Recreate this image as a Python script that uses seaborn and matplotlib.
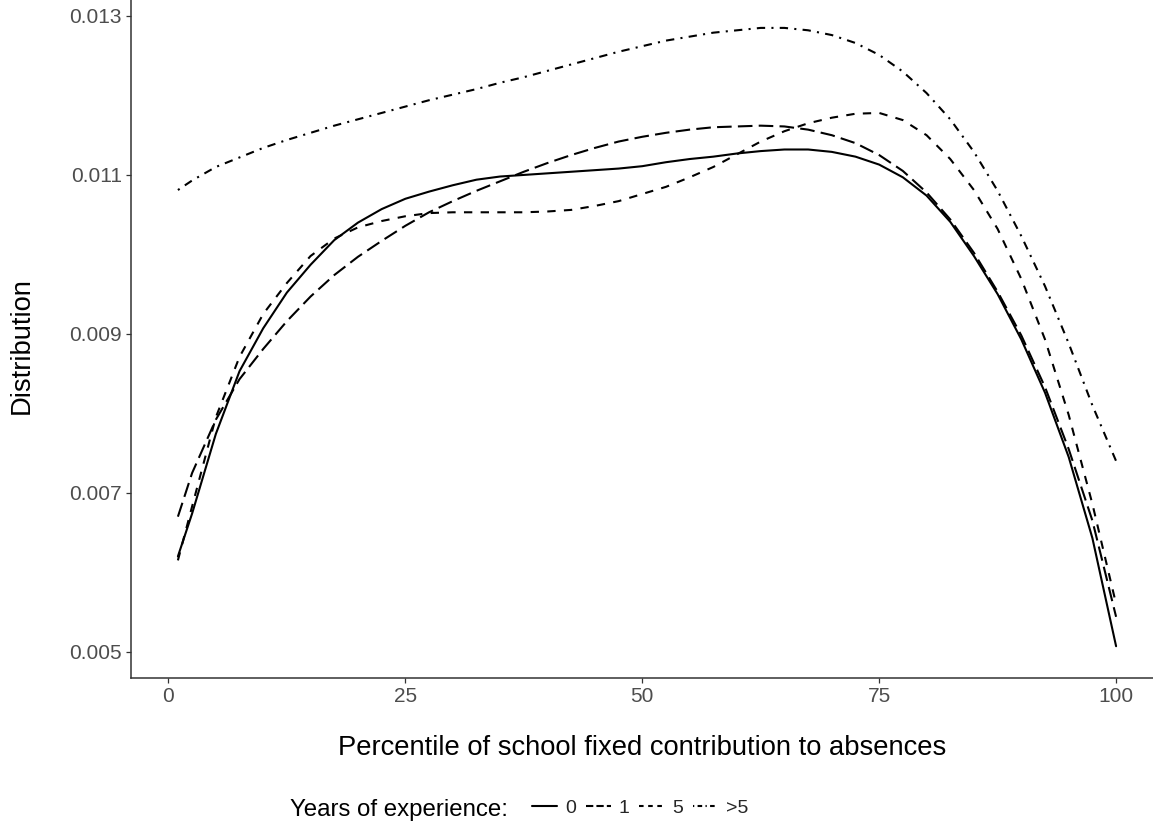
import matplotlib
matplotlib.use('Agg')

import numpy as np
import pandas as pd
import matplotlib.pyplot as plt
import seaborn as sns

# percentile of school fixed contribution
pct = [1, 2.5, 5, 7.5, 10, 12.5, 15, 17.5, 20, 22.5, 25, 27.5, 30, 32.5, 35,
       37.5, 40, 42.5, 45, 47.5, 50, 52.5, 55, 57.5, 60, 62.5, 65, 67.5, 70,
       72.5, 75, 77.5, 80, 82.5, 85, 87.5, 90, 92.5, 95, 97.5, 100]

# distribution by years of experience
exp0 = [0.0062, 0.00674, 0.00774, 0.00853, 0.00907, 0.00952, 0.00987, 0.01018,
        0.0104, 0.01057, 0.0107, 0.01079, 0.01087, 0.01094, 0.01098, 0.011,
        0.01102, 0.01104, 0.01106, 0.01108, 0.01111, 0.01116, 0.0112, 0.01123,
        0.01127, 0.0113, 0.01132, 0.01132, 0.01129, 0.01123, 0.01113, 0.01097,
        0.01074, 0.01041, 0.00998, 0.00950, 0.00893, 0.00826, 0.00745, 0.00643,
        0.00507]
exp1 = [0.0067, 0.00725, 0.00792, 0.00843, 0.00881, 0.00916, 0.00947, 0.00974,
        0.00997, 0.01017, 0.01036, 0.01053, 0.01067, 0.0108, 0.01092, 0.01104,
        0.01115, 0.01125, 0.01134, 0.01142, 0.01148, 0.01153, 0.01157, 0.0116,
        0.01161, 0.01162, 0.01161, 0.01157, 0.0115, 0.0114, 0.01125, 0.01105,
        0.01078, 0.01044, 0.01002, 0.00953, 0.00898, 0.00833, 0.00755, 0.00665,
        0.00544]
exp5 = [0.00615, 0.00683, 0.00795, 0.00871, 0.00925, 0.00964, 0.00998, 0.0102,
        0.01034, 0.01042, 0.01048, 0.01052, 0.01053, 0.01053, 0.01053, 0.01053,
        0.01054, 0.01056, 0.01061, 0.01067, 0.01076, 0.01085, 0.01097, 0.0111,
        0.01126, 0.01142, 0.01155, 0.01165, 0.01172, 0.01177, 0.01178, 0.01169,
        0.0115, 0.0112, 0.01081, 0.01032, 0.00969, 0.00893, 0.00798, 0.00686,
        0.0056]
expGt5 = [0.01081, 0.01093, 0.0111, 0.01122, 0.01134, 0.01144, 0.01153,
          0.01162, 0.0117, 0.01178, 0.01186, 0.01194, 0.01201, 0.01208,
          0.01216, 0.01223, 0.01231, 0.01239, 0.01247, 0.01255, 0.01262,
          0.01269, 0.01274, 0.01279, 0.01282, 0.01285, 0.01285, 0.01282,
          0.01276, 0.01266, 0.01251, 0.0123, 0.01203, 0.0117, 0.01129,
          0.0108, 0.01023, 0.0096, 0.00888, 0.0081, 0.0074]

groups = ['0', '1', '5', '>5']
yticks = [0.005, 0.007, 0.009, 0.011, 0.013]
xticks = [0, 25, 50, 75, 100]

frames = []
for g, vals in zip(groups, [exp0, exp1, exp5, expGt5]):
    frames.append(pd.DataFrame({'pct': pct, 'dist': vals, 'exp': g}))
df = pd.concat(frames, ignore_index=True)

sns.set_style('ticks')
plt.rcParams['font.family'] = ['Liberation Sans', 'DejaVu Sans']

W, H = 1153, 826
fig = plt.figure(figsize=(W / 100, H / 100), dpi=100)
# panel deliberately runs past the top and right edges, as in the original crop
ax = fig.add_axes([131 / W, 148 / H, (1163 - 131) / W, (678 + 5) / H])

dashes = {'0': '', '1': (7, 3), '5': (4, 4), '>5': (1, 3, 4, 3)}
sns.lineplot(data=df, x='pct', y='dist', style='exp', style_order=groups,
             dashes=dashes, color='black', linewidth=1.5, ax=ax,
             estimator=None, sort=True)

ax.set_xlim(-3.95, 104.95)
ax.set_ylim(0.00467, 0.013264)
ax.set_xticks(xticks)
ax.set_xticklabels([str(t) for t in xticks])
ax.set_yticks(yticks)
ax.set_yticklabels(['%.3f' % t for t in yticks])
ax.tick_params(axis='both', direction='out', length=3.5, width=0.9,
               color='#333333', labelcolor='#4D4D4D', labelsize=15, pad=3,
               bottom=True, left=True)
for s in ['top', 'right']:
    ax.spines[s].set_visible(False)
for s in ['left', 'bottom']:
    ax.spines[s].set_color('#333333')
    ax.spines[s].set_linewidth(1.1)
ax.set_xlabel('')
ax.set_ylabel('')

fig.text(642 / W, 1 - 748 / H, 'Percentile of school fixed contribution to absences',
         ha='center', va='center', fontsize=19.7, color='black')
fig.text(22 / W, 1 - 346 / H, 'Distribution', rotation=90,
         ha='center', va='center', fontsize=19.7, color='black')

handles, labels = ax.get_legend_handles_labels()
ax.get_legend().remove()
# shorter dash patterns on the legend keys so both dashes show, as in ggplot
key_dashes = {'1': (3.5, 1.5), '5': (2.2, 2.2), '>5': (0.6, 1.6, 2.2, 1.6)}
for h, lab in zip(handles, labels):
    if lab in key_dashes:
        h.set_dashes(key_dashes[lab])
fig.text(290 / W, 1 - 810 / H, 'Years of experience:', ha='left', va='center',
         fontsize=17.3, color='black')
leg = fig.legend(handles, labels, ncol=4, loc='center left',
                 bbox_to_anchor=(532 / W, 1 - 808 / H), frameon=False,
                 fontsize=14, handlelength=1.3, handletextpad=0.4,
                 columnspacing=0.5, borderpad=0, borderaxespad=0)

plt.savefig('out.png', dpi=100)
